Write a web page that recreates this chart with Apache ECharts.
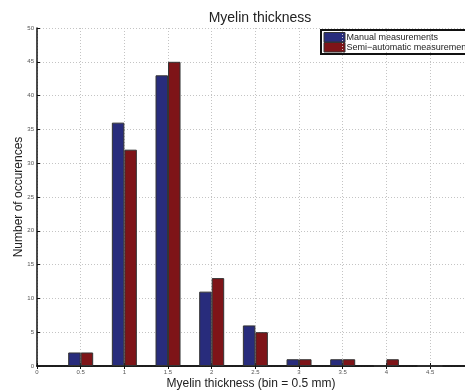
<!DOCTYPE html>
<html><head><meta charset="utf-8">
<script src="https://cdn.jsdelivr.net/npm/echarts@6/dist/echarts.min.js"></script>
<style>html,body{margin:0;padding:0;background:#fff}#c{width:465px;height:390px}</style>
</head><body><div id="c"></div>
<script>
var binCenters = [0.5, 1, 1.5, 2, 2.5, 3, 3.5, 4, 4.5];
var manualCounts = [2, 36, 43, 11, 6, 1, 1, 0, 0];
var semiCounts = [2, 32, 45, 13, 5, 1, 1, 1, 0];
var yTicks = [0, 5, 10, 15, 20, 25, 30, 35, 40, 45, 50];
var xTicks = [0, 0.5, 1, 1.5, 2, 2.5, 3, 3.5, 4, 4.5];
var seriesNames = ['Manual measurements', 'Semi\u2212automatic measurements'];
var seriesColors = ['#282c7c', '#7e1418'];

function pairs(xs, ys){ return xs.map(function(x,i){ return [x, ys[i]]; }); }

var chart = echarts.init(document.getElementById('c'));
var font = '"Liberation Sans", Arial, sans-serif';
chart.setOption({
  animation: false,
  title: { text: 'Myelin thickness', left: 255, top: 6, textAlign: 'center',
    textStyle: { fontFamily: font, fontSize: 14, fontWeight: 'normal', color: '#222' } },
  graphic: [{
    type: 'group', left: 320, top: 29, z: 100,
    children: [
      { type: 'rect', shape: { x: 0, y: 0, width: 170, height: 24 },
        style: { fill: '#fff', stroke: '#111', lineWidth: 2 } },
      { type: 'rect', shape: { x: 3, y: 2.5, width: 21, height: 9.5 },
        style: { fill: seriesColors[0], stroke: '#333', lineWidth: 1 } },
      { type: 'rect', shape: { x: 3, y: 12.5, width: 21, height: 9.5 },
        style: { fill: seriesColors[1], stroke: '#333', lineWidth: 1 } },
      { type: 'text', x: 25.5, y: 7.5, style: { text: seriesNames[0], fontFamily: font, fontSize: 9,
        fill: '#222', verticalAlign: 'middle' } },
      { type: 'text', x: 25.5, y: 17.5, style: { text: seriesNames[1], fontFamily: font, fontSize: 9,
        fill: '#222', verticalAlign: 'middle' } }
    ]
  }],
  grid: { left: 37, right: 0, top: 28, bottom: 24, containLabel: false, outerBoundsMode: 'none' },
  xAxis: [{
    type: 'value', min: 0, max: 4.9, interval: 0.5,
    axisLine: { show: true, onZero: false, lineStyle: { color: '#111', width: 1.5 } },
    axisTick: { show: true, inside: true, length: 3, lineStyle: { color: '#111' } },
    axisLabel: { fontFamily: font, fontSize: 6, color: '#555', margin: 3, showMaxLabel: false,
      formatter: function(v){ return xTicks.indexOf(v) >= 0 ? String(v) : ''; } },
    splitLine: { show: true, lineStyle: { color: '#c4c4c4', type: [1, 2], width: 1 } },
    name: 'Myelin thickness (bin = 0.5 mm)', nameLocation: 'middle', nameGap: 12, nameMoveOverlap: false,
    nameTextStyle: { fontFamily: font, fontSize: 12, color: '#222' }
  }, {
    type: 'value', min: 0, max: 4.9, interval: 0.5, position: 'top',
    axisLine: { show: true, lineStyle: { color: '#111', width: 1.5 } },
    axisTick: { show: true, inside: true, length: 3, lineStyle: { color: '#111' } },
    axisLabel: { show: false }, splitLine: { show: false }
  }],
  yAxis: {
    type: 'value', min: 0, max: 50, interval: 5,
    axisLine: { show: true, lineStyle: { color: '#111', width: 1.5 } },
    axisTick: { show: true, inside: true, length: 3, lineStyle: { color: '#111' } },
    axisLabel: { fontFamily: font, fontSize: 6, color: '#555', margin: 3,
      formatter: function(v){ return yTicks.indexOf(v) >= 0 ? String(v) : ''; } },
    splitLine: { show: true, lineStyle: { color: '#c4c4c4', type: [1, 2], width: 1 } },
    name: 'Number of occurences', nameLocation: 'middle', nameGap: 12, nameMoveOverlap: false,
    nameTextStyle: { fontFamily: font, fontSize: 12, color: '#222' }
  },
  series: [{
    name: seriesNames[0], type: 'bar', xAxisIndex: 0, barWidth: 12.5, barGap: '0%',
    itemStyle: { color: seriesColors[0], borderColor: '#333', borderWidth: 1 },
    data: pairs(binCenters, manualCounts)
  }, {
    name: seriesNames[1], type: 'bar', xAxisIndex: 0, barWidth: 12.5, barGap: '0%',
    itemStyle: { color: seriesColors[1], borderColor: '#333', borderWidth: 1 },
    data: pairs(binCenters, semiCounts)
  }]
});
</script></body></html>
